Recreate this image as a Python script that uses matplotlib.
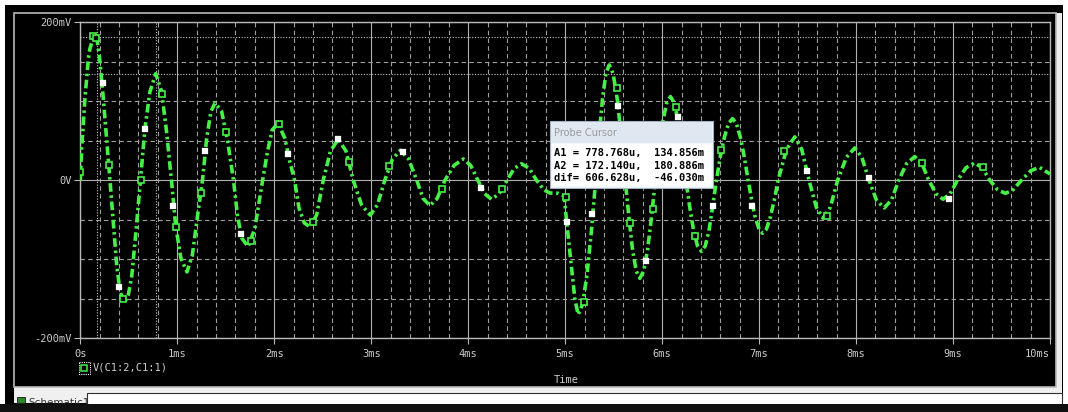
"""
Probe window screenshot rebuilt with matplotlib:
damped ringing on V(C1:2,C1:1) plus a second burst at ~5 ms,
with the PSpice probe cursor readout box.
"""
import matplotlib
matplotlib.use("Agg")
import matplotlib.pyplot as plt
from matplotlib.patches import Rectangle
from matplotlib.ticker import FixedLocator, MultipleLocator

# --- data (time in ms, voltage in mV) ---------------------------------------
t_ms = [
    0.00, 0.014, 0.031, 0.048, 0.066, 0.083, 0.10, 0.14, 0.175, 0.203,
    0.237, 0.27, 0.306, 0.34, 0.375, 0.41, 0.455, 0.495, 0.53, 0.574,
    0.62, 0.667, 0.718, 0.778, 0.839, 0.89, 0.94, 0.983, 1.038, 1.10,
    1.155, 1.21, 1.26, 1.303, 1.347, 1.39, 1.458, 1.52, 1.58, 1.62,
    1.664, 1.73, 1.80, 1.88, 1.93, 1.98, 2.04, 2.11, 2.16, 2.21,
    2.255, 2.31, 2.37, 2.437, 2.505, 2.58, 2.66, 2.74, 2.815, 2.90,
    2.99, 3.065, 3.14, 3.22, 3.30, 3.385, 3.47, 3.535, 3.605, 3.68,
    3.76, 3.855, 3.95, 4.025, 4.10, 4.17, 4.24, 4.32, 4.40, 4.475,
    4.55, 4.63, 4.705, 4.78, 4.84, 4.93, 4.99, 5.015, 5.05, 5.10,
    5.134, 5.179, 5.225, 5.27, 5.315, 5.35, 5.385, 5.42, 5.454, 5.495,
    5.537, 5.578, 5.62, 5.658, 5.695, 5.733, 5.77, 5.81, 5.85, 5.89,
    5.93, 5.97, 6.008, 6.047, 6.086, 6.125, 6.165, 6.205, 6.245, 6.285,
    6.325, 6.365, 6.406, 6.445, 6.483, 6.52, 6.56, 6.60, 6.643, 6.685,
    6.726, 6.766, 6.806, 6.847, 6.887, 6.925, 6.96, 7.0, 7.035, 7.075,
    7.115, 7.155, 7.196, 7.282, 7.368, 7.44, 7.515, 7.59, 7.66, 7.735,
    7.81, 7.90, 7.987, 8.06, 8.134, 8.21, 8.29, 8.365, 8.44, 8.52,
    8.605, 8.68, 8.75, 8.825, 8.897, 8.97, 9.045, 9.135, 9.224, 9.30,
    9.38, 9.46, 9.54, 9.62, 9.705, 9.80, 9.89, 10.0,
]
v_mv = [
    0, 41, 70, 104, 129, 154, 167, 183, 177, 150,
    104, 55, 0, -52, -107, -141, -155, -145, -122, -65,
    0, 66, 112, 135, 112, 61, 0, -57, -99, -116,
    -95, -44, 0, 53, 87, 98, 87, 49, 0, -44,
    -73, -84, -61, 0, 36, 64, 72, 53, 24, 0,
    -35, -54, -59, -44, 0, 37, 52, 37, 0, -31,
    -44, -31, 0, 27, 38, 27, 0, -23, -32, -23,
    0, 19, 27, 19, 0, -17, -24, -17, 0, 15,
    21, 15, 0, -12, -16, -16.5, -20, -52, -92, -150,
    -170, -157, -120, -65, 0, 56, 103, 135, 146, 135,
    103, 56, 0, -47, -88, -115, -124, -115, -88, -47,
    0, 41, 75, 98, 106, 98, 75, 41, 0, -34,
    -64, -83, -90, -83, -64, -34, 0, 30, 55, 72,
    78, 72, 55, 30, 0, -26, -47, -62, -67, -62,
    -47, -26, 0, 39, 55, 39, 0, -34, -48, -34,
    0, 29, 41, 29, 0, -25, -35, -25, 0, 21,
    30, 21, 0, -17, -24, -17, 0, 16, 22, 16,
    0, -12, -16.5, -12, 0, 12, 16.5, 8,
]

# trace symbols drawn by the probe along the curve
hollow_t = [0.00, 0.134, 0.165, 0.296, 0.437, 0.623, 0.839, 0.983, 1.241, 1.502,
            1.760, 2.049, 2.402, 2.773, 3.186, 3.732, 4.347, 5.004, 5.193, 5.530,
            5.667, 5.907, 6.141, 6.340, 6.612, 7.258, 7.698, 8.684, 9.309]
hollow_v = [10.9, 183, 180, 19.4, -150.6, 0.4, 109, -59.5, -15.7, 60.8,
            -76.8, 71.3, -53.2, 23.5, 18.5, -11.4, -10.6, -20.8, -153.7, 117.2,
            -54.4, -36.7, 93.2, -70.1, 38.4, 37.1, -45.6, 21.5, 16.5]
white_t = [0.231, 0.402, 0.667, 0.959, 1.286, 1.657, 2.138, 2.660, 3.330, 4.128,
           5.018, 5.282, 5.546, 5.832, 6.159, 6.526, 6.932, 7.489, 8.134, 8.956]
white_v = [122.8, -134.7, 64.9, -32.5, 37.5, -68, 32.9, 52.3, 36.2, -10.1,
           -52.4, -43, 94.4, -102.2, 80.5, -32.9, -32.9, 11.8, 2.5, -23.7]

# probe cursors: (time ms, value mV)
cursor_a1 = (0.778768, 134.856)
cursor_a2 = (0.172140, 180.886)

x_ticks = [0, 1, 2, 3, 4, 5, 6, 7, 8, 9, 10]
x_labels = ["0s", "1ms", "2ms", "3ms", "4ms", "5ms", "6ms", "7ms", "8ms", "9ms", "10ms"]
y_ticks = [-200, 0, 200]
y_labels = ["-200mV", "0V", "200mV"]
trace_name = "V(C1:2,C1:1)"

# --- look -------------------------------------------------------------------
W, H = 1068, 412
GREEN = "#46f046"
GRID = "#a0a0a0"
TXT = "#cccccc"
plt.rcParams["font.family"] = ["DejaVu Sans Mono"]

fig = plt.figure(figsize=(W / 100, H / 100), dpi=100, facecolor="white")

# window chrome, in pixel coordinates
bg = fig.add_axes([0, 0, 1, 1])
bg.set_xlim(0, W)
bg.set_ylim(H, 0)
bg.axis("off")
bg.add_patch(Rectangle((5, 5), 1058, 407, fc="black", ec="none"))
bg.add_patch(Rectangle((1056, 13), 6, 390, fc="#ececec", ec="none"))
bg.add_patch(Rectangle((14, 387), 1048, 16, fc="#f0f0f0", ec="none"))
bg.add_patch(Rectangle((87, 392.5), 975, 14, fc="white", ec="#303030", lw=0.8))
bg.add_patch(Rectangle((14, 13), 1042, 374, fc="none", ec="#b8b8b8", lw=1.2))
bg.add_patch(Rectangle((17, 397), 8, 6, fc="#2a8a2a", ec="#1a1a1a", lw=0.6))
bg.text(28, 397.5, "Schematic1", family="DejaVu Sans", fontsize=7.5,
        color="#333333", va="top")
bg.add_patch(Rectangle((0, 403.5), W, 9, fc="#101010", ec="none", zorder=5))

# plot area
ax = fig.add_axes([80.3 / W, (H - 338.3) / H, 969.7 / W, 316 / H])
ax.set_facecolor("black")
ax.set_xlim(0, 10)
ax.set_ylim(-200, 200)
ax.xaxis.set_major_locator(FixedLocator(x_ticks))
ax.set_xticklabels(x_labels)
ax.xaxis.set_minor_locator(MultipleLocator(0.2))
ax.yaxis.set_major_locator(FixedLocator(y_ticks))
ax.set_yticklabels(y_labels)
ax.yaxis.set_minor_locator(MultipleLocator(50))
ax.grid(which="major", color="#b0b0b0", lw=0.8, ls="-")
ax.grid(which="minor", color=GRID, lw=0.8, ls=(0, (4, 3)))
ax.tick_params(which="minor", length=0)
ax.tick_params(which="major", length=4, width=0.8, color="#b8b8b8",
               labelcolor=TXT, labelsize=7.5, direction="out")
ax.tick_params(axis="x", pad=4)
ax.tick_params(axis="y", pad=2)
ax.get_xticklabels()[-1].set_ha("right")
for sp in ax.spines.values():
    sp.set_color("#b8b8b8")
    sp.set_linewidth(1.0)

# cursor cross-hairs
for t, v in (cursor_a1, cursor_a2):
    ax.axvline(t, color="#c8c8c8", lw=0.8, ls=(0, (1, 1.5)), zorder=2)
    ax.axhline(v, color="#c8c8c8", lw=0.8, ls=(0, (1, 1.5)), zorder=2)

ax.plot(t_ms, v_mv, color=GREEN, lw=2.6, ls=(0, (2.4, 1.0, 0.7, 1.0)),
        solid_joinstyle="round", zorder=3)
ax.plot(hollow_t, hollow_v, ls="none", marker="s", ms=4.3, mfc="black",
        mec=GREEN, mew=1.2, zorder=4)
ax.plot(white_t, white_v, ls="none", marker="s", ms=5.0, mfc="white",
        mec="white", mew=0.2, zorder=4)

# overlay: legend entry, axis title and probe cursor box
ov = fig.add_axes([0, 0, 1, 1])
ov.set_xlim(0, W)
ov.set_ylim(H, 0)
ov.axis("off")
ov.add_patch(Rectangle((78.5, 361.5), 11, 12, fc="none", ec="white", lw=0.8,
                       ls=(0, (1, 1))))
ov.plot([84], [367.5], ls="none", marker="s", ms=4.0, mfc="black", mec=GREEN, mew=1.1)
ov.text(93, 367.5, trace_name, color=TXT, fontsize=7.5, va="center")
ov.text(566, 380, "Time", color=TXT, fontsize=7.5, ha="center", va="center")

ov.add_patch(Rectangle((549.5, 121), 163, 67, fc="#f4f7fa", ec="#9fb1c4", lw=0.8))
ov.add_patch(Rectangle((550.5, 122), 161, 21, fc="#dfe8f1", ec="none"))
ov.add_patch(Rectangle((552, 143.5), 158.5, 42.5, fc="white", ec="none"))
ov.text(554, 133, "Probe Cursor", family="DejaVu Sans", fontsize=7,
        color="#9a9a9a", va="center")
dif = (cursor_a1[0] - cursor_a2[0], cursor_a1[1] - cursor_a2[1])
rows = [
    f"A1 = {cursor_a1[0] * 1000:.3f}u,  {cursor_a1[1]:7.3f}m",
    f"A2 = {cursor_a2[0] * 1000:.3f}u,  {cursor_a2[1]:7.3f}m",
    f"dif= {dif[0] * 1000:.3f}u,  {dif[1]:7.3f}m",
]
for i, s in enumerate(rows):
    ov.text(553.5, 152.7 + i * 12.8, s, fontsize=7.5, weight="bold",
            color="black", va="center")

fig.savefig("out.png", dpi=100, facecolor="white")
